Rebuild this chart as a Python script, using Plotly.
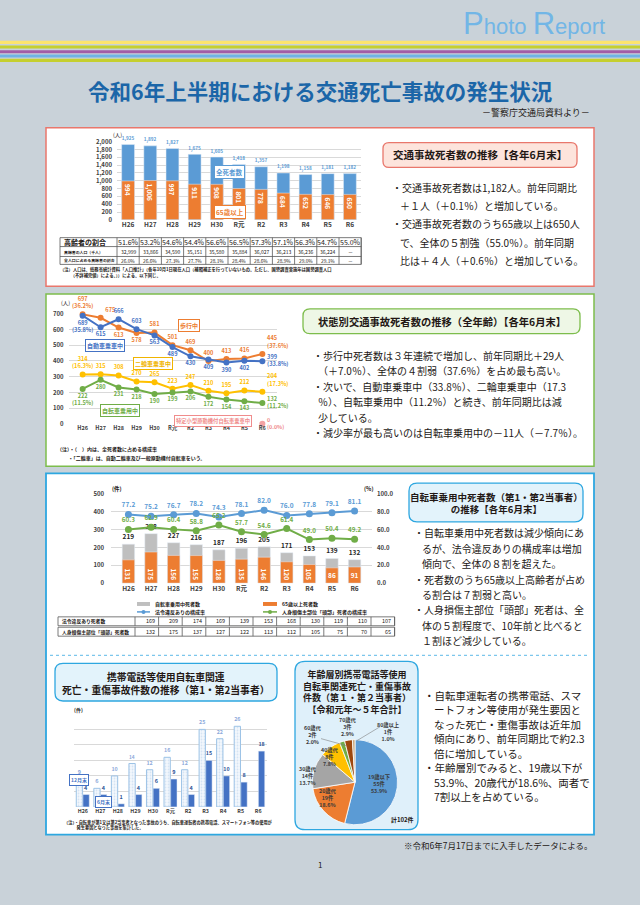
import plotly.graph_objects as go

W, H = 640, 905
FONT = "Noto Sans CJK JP"
DARK = "#231815"

def X(px): return px / W
def Y(py): return 1 - py / H

# ---------------- data ----------------
years = ["H26", "H27", "H28", "H29", "H30", "R元", "R2", "R3", "R4", "R5", "R6"]

total_deaths = [1925, 1892, 1827, 1675, 1605, 1418, 1357, 1198, 1158, 1181, 1182]
elderly_deaths = [994, 1006, 997, 911, 908, 801, 778, 684, 652, 646, 650]
elderly_share = ["51.6%", "53.2%", "54.6%", "54.4%", "56.6%", "56.5%", "57.3%", "57.1%", "56.3%", "54.7%", "55.0%"]
elderly_pop = ["32,999", "33,866", "34,590", "35,151", "35,580", "35,884", "36,027", "36,213", "36,236", "36,224", "－"]
elderly_pop_share = ["26.0%", "26.6%", "27.3%", "27.7%", "28.1%", "28.4%", "28.6%", "28.9%", "29.0%", "29.1%", "－"]

walking = [697, 675, 613, 578, 581, 501, 469, 400, 413, 416, 445]
car = [689, 615, 666, 603, 563, 489, 430, 409, 390, 402, 399]
motorcycle = [314, 315, 308, 270, 265, 223, 247, 210, 195, 212, 204]
bicycle = [222, 280, 231, 218, 190, 199, 206, 172, 154, 143, 132]
scooter = [None] * 10 + [0]
walking_pct = ["(36.2%)", "(37.6%)"]
car_pct = ["(35.8%)", "(33.8%)"]
motorcycle_pct = ["(16.3%)", "(17.3%)"]
bicycle_pct = ["(11.5%)", "(11.2%)"]
scooter_pct = "(0.0%)"

bike_deaths = [219, 278, 227, 216, 187, 196, 205, 171, 153, 139, 132]
bike_elderly = [131, 175, 156, 155, 128, 135, 146, 120, 105, 86, 91]
violation_rate = [77.2, 75.2, 76.7, 78.2, 74.3, 78.1, 82.0, 76.0, 77.8, 79.1, 81.1]
head_rate = [60.3, 62.9, 60.4, 58.8, 65.2, 57.7, 54.6, 61.4, 49.0, 50.4, 49.2]
violation_deaths = [169, 209, 174, 169, 139, 153, 168, 130, 119, 110, 107]
head_deaths = [132, 175, 137, 127, 122, 113, 112, 105, 75, 70, 65]

phone_dec = [9, 6, 10, 14, 12, 16, 12, 25, 22, 26, None]
phone_jun = [4, 4, 1, 4, 6, 9, 4, 15, 10, 8, 18]

age_groups = ["19歳以下", "20歳代", "30歳代", "40歳代", "60歳代", "70歳代", "80歳以上"]
age_counts = [55, 19, 14, 8, 2, 3, 1]
age_pcts = ["53.9%", "18.6%", "13.7%", "7.8%", "2.0%", "2.9%", "1.0%"]

# ---------------- helpers ----------------
shapes, anns = [], []

def rect(x0, y0, x1, y1, fill=None, line=None, lw=1.0, layer="below", dash="solid"):
    shapes.append(dict(type="rect", xref="paper", yref="paper",
                       x0=X(x0), x1=X(x1), y0=Y(y1), y1=Y(y0),
                       fillcolor=fill or "rgba(0,0,0,0)",
                       line=dict(color=line or "rgba(0,0,0,0)", width=lw if line else 0, dash=dash),
                       layer=layer))

def hline(x0, x1, y, color, lw=0.8, dash="solid", layer="above"):
    shapes.append(dict(type="line", xref="paper", yref="paper", x0=X(x0), x1=X(x1), y0=Y(y), y1=Y(y),
                       line=dict(color=color, width=lw, dash=dash), layer=layer))

def vline(x, y0, y1, color, lw=0.8, layer="above"):
    shapes.append(dict(type="line", xref="paper", yref="paper", x0=X(x), x1=X(x), y0=Y(y0), y1=Y(y1),
                       line=dict(color=color, width=lw), layer=layer))

def rrect(x0, y0, x1, y1, r, fill, line, lw=1.5):
    p = (f"M {X(x0+r)},{Y(y0)} L {X(x1-r)},{Y(y0)} Q {X(x1)},{Y(y0)} {X(x1)},{Y(y0+r)} "
         f"L {X(x1)},{Y(y1-r)} Q {X(x1)},{Y(y1)} {X(x1-r)},{Y(y1)} "
         f"L {X(x0+r)},{Y(y1)} Q {X(x0)},{Y(y1)} {X(x0)},{Y(y1-r)} "
         f"L {X(x0)},{Y(y0+r)} Q {X(x0)},{Y(y0)} {X(x0+r)},{Y(y0)} Z")
    shapes.append(dict(type="path", xref="paper", yref="paper", path=p, fillcolor=fill,
                       line=dict(color=line, width=lw), layer="below"))

def txt(s, x, y, size=10, color=DARK, xanchor="left", yanchor="middle", bold=False, **kw):
    d = dict(text=s, x=X(x), y=Y(y), xref="paper", yref="paper", showarrow=False,
             xanchor=xanchor, yanchor=yanchor,
             font=dict(size=size, color=color, family=FONT, weight="bold" if bold else "normal"))
    d.update(kw)
    anns.append(d)

def boxlabel(s, x, y, color, size=6):
    txt(s, x, y, size=size, color=color, xanchor="center", bold=True,
        bordercolor=color, borderwidth=1, borderpad=1, bgcolor="white")

# ---------------- page decoration ----------------
for (y0, y1, c) in [(36, 39.5, "#fde46e"), (41, 44, "#c5cf2f"), (45.7, 48.8, "#a25ca6"),
                    (50, 53, "#6fb2e4"), (54.3, 57.5, "#c5cf2f")]:
    rect(0, y0, 640, y1, fill=c)

txt('<span style="font-size:31px">P</span>hoto <span style="font-size:31px">R</span>eport',
    534, 38, size=22, color="#72b6e6", xanchor="center", yanchor="bottom")
anns[-1]["font"]["family"] = "Liberation Sans"

txt("令和6年上半期における交通死亡事故の発生状況", 320, 86, size=21.5, color="#1b66a8",
    xanchor="center", bold=True)
txt("－警察庁交通局資料より－", 592, 109, size=9, xanchor="right")

# panels
rect(46, 124, 594, 284, fill="white", line="#e9776c", lw=1.5)
rect(46, 292, 594, 466, fill="white", line="#7dbd4c", lw=1.5)
rect(46, 473, 594, 838, fill="white", line="#2ea7e0", lw=1.8)
hline(50, 590, 657, "#7cc6ec", lw=1.2, dash="dot", layer="below")

# ---------------- chart 1 ----------------
fig = go.Figure()
fig.add_trace(go.Bar(x=years, y=total_deaths, xaxis="x", yaxis="y", width=0.58,
                     marker=dict(color="#5b9bd5"),
                     text=[f"{v:,}" for v in total_deaths], textposition="outside",
                     textfont=dict(size=6, color="#5b9bd5", family=FONT, weight="bold"),
                     cliponaxis=False, hoverinfo="skip"))
fig.add_trace(go.Bar(x=years, y=elderly_deaths, xaxis="x", yaxis="y", width=0.58,
                     marker=dict(color="#ed7d31"),
                     text=[f"{v:,}" for v in elderly_deaths], textposition="inside",
                     insidetextanchor="end", textangle=90, constraintext="none",
                     textfont=dict(size=6.5, color="white", family=FONT, weight="bold"),
                     hoverinfo="skip"))
txt("(人)", 117, 131, size=5.5, xanchor="center")
boxlabel("全死者数", 229, 169, "#5b9bd5", size=6.5)
boxlabel("65歳以上", 230, 209, "#ed7d31", size=6.5)

# table 1
tx0, tx1 = 60, 117
cw1 = 22.2
rows1 = [235, 244, 254, 262]
tcol = "#595959"
rect(tx0, rows1[0], tx1 + cw1 * 11, rows1[-1], line=tcol, lw=0.8, layer="above")
for yy in rows1[1:-1]:
    hline(tx0, tx1 + cw1 * 11, yy, tcol)
for i in range(12):
    vline(tx1 + cw1 * i, rows1[0], rows1[-1], tcol)
row_labels1 = ["高齢者の割合", "高齢者の人口（千人）", "全人口に占める高齢者の割合"]
row_vals1 = [elderly_share, elderly_pop, elderly_pop_share]
row_sizes1 = [7, 5, 4.8]
for r in range(3):
    yc = (rows1[r] + rows1[r + 1]) / 2
    txt(row_labels1[r], tx0 + 2, yc, size=7 if r == 0 else 3.9, bold=True)
    for i, v in enumerate(row_vals1[r]):
        txt(v, tx1 + cw1 * (i + 0.5), yc, size=row_sizes1[r], xanchor="center")
txt("（注）人口は、総務省統計資料「人口推計」（各年10月1日現在人口（補間補正を行っていないもの。ただし、国勢調査実施年は国勢調査人口",
    58, 267, size=4.3, bold=True)
txt("　　　（不詳補完値）による。））による。以下同じ。", 58, 273, size=4.3, bold=True)

# panel 1 title + text
rrect(383, 139, 577, 164, 6, "#fde4dc", "#e9776c", 1.3)
txt("交通事故死者数の推移【各年6月末】", 480, 151.5, size=10.5, xanchor="center", bold=True)
p1 = ["・交通事故死者数は1,182人。前年同期比",
      "＋１人（＋0.1％）と増加している。",
      "・交通事故死者数のうち65歳以上は650人",
      "で、全体の５割強（55.0％）。前年同期",
      "比は＋４人（＋0.6％）と増加している。"]
for i, s in enumerate(p1):
    txt(s, 390 if s.startswith("・") else 398, 184 + 18.5 * i, size=10)

# ---------------- chart 2 ----------------
def lbl(vals, pct):
    t = [str(v) if v is not None else "" for v in vals]
    t[0] = f"{t[0]}<br>{pct[0]}"
    t[-1] = f"{t[-1]}<br>{pct[1]}"
    return t

walk_pos = ["top center", "top right", "bottom center", "bottom center", "top center", "top center",
            "top center", "top center", "top center", "top center", "top right"]
car_pos = ["bottom center", "bottom center", "top center", "top center", "bottom center", "bottom center",
           "bottom center", "bottom center", "bottom center", "bottom center", "middle right"]
motor_pos = ["top center"] * 10 + ["top right"]
bike_pos = ["bottom center"] * 10 + ["middle right"]

series2 = [
    (walking, walking_pct, "#ed7d31", walk_pos),
    (car, car_pct, "#4472c4", car_pos),
    (motorcycle, motorcycle_pct, "#ffc000", motor_pos),
    (bicycle, bicycle_pct, "#70ad47", bike_pos),
]
for vals, pct, col, pos in series2:
    fig.add_trace(go.Scatter(x=years, y=vals, xaxis="x2", yaxis="y2", mode="lines+markers+text",
                             line=dict(color=col, width=2), marker=dict(size=6, color=col),
                             text=lbl(vals, pct), textposition=pos,
                             textfont=dict(size=5.6, color=col, family=FONT, weight="bold"),
                             cliponaxis=False, hoverinfo="skip"))
fig.add_trace(go.Scatter(x=years, y=scooter, xaxis="x2", yaxis="y2", mode="markers+text",
                         marker=dict(size=6, color="#f4a3a3"),
                         text=[""] * 10 + [f"0<br>{scooter_pct}"], textposition="middle right",
                         textfont=dict(size=5.3, color="#f08c8c", family=FONT, weight="bold"),
                         cliponaxis=False, hoverinfo="skip"))
txt("(人)", 65, 301, size=5.5, xanchor="center")
boxlabel("歩行中", 189, 324, "#ed7d31")
boxlabel("自動車乗車中", 105, 344, "#4472c4")
boxlabel("二輪車乗車中", 153, 362, "#f0b400")
boxlabel("自転車乗用中", 120, 410, "#70ad47")
boxlabel("特定小型原動機付自転車乗車中", 213, 420, "#f08c8c", size=5.3)
txt("（注）・（　）内は、全死者数に占める構成率", 55, 448, size=5, bold=True)
txt("　　 ・「二輪車」は、自動二輪車及び一般原動機付自転車をいう。", 55, 458, size=5, bold=True)

rrect(303, 307, 580, 332, 7, "#eef7e6", "#7dbd4c", 1.3)
txt("状態別交通事故死者数の推移（全年齢）【各年6月末】", 441.5, 319.5, size=10.3, xanchor="center", bold=True)
p2 = ["・歩行中死者数は３年連続で増加し、前年同期比＋29人",
      "（＋7.0％）、全体の４割弱（37.6％）を占め最も高い。",
      "・次いで、自動車乗車中（33.8％）、二輪車乗車中（17.3",
      "％）、自転車乗用中（11.2％）と続き、前年同期比は減",
      "少している。",
      "・減少率が最も高いのは自転車乗用中の－11人（－7.7％）。"]
for i, s in enumerate(p2):
    txt(s, 311 if s.startswith("・") else 316, 354 + 15.6 * i, size=10)

# ---------------- chart 3 ----------------
fig.add_trace(go.Bar(x=years, y=bike_deaths, xaxis="x3", yaxis="y3", width=0.55,
                     marker=dict(color="#bfbfbf"),
                     text=bike_deaths, textposition="outside",
                     textfont=dict(size=6.5, color="#262626", family=FONT, weight="bold"),
                     cliponaxis=False, hoverinfo="skip"))
fig.add_trace(go.Bar(x=years, y=bike_elderly, xaxis="x3", yaxis="y3", width=0.55,
                     marker=dict(color="#ed7d31"),
                     text=bike_elderly, textposition="inside", insidetextanchor="start",
                     constraintext="none",
                     textfont=dict(size=6.5, color="white", family=FONT, weight="bold"),
                     hoverinfo="skip"))
fig.add_trace(go.Scatter(x=years, y=violation_rate, xaxis="x3", yaxis="y4", mode="lines+markers+text",
                         line=dict(color="#5b9bd5", width=2), marker=dict(size=7, color="#5b9bd5"),
                         text=[f"{v:.1f}" for v in violation_rate], textposition="top center",
                         textfont=dict(size=6.5, color="#5b9bd5", family=FONT, weight="bold"),
                         cliponaxis=False, hoverinfo="skip"))
fig.add_trace(go.Scatter(x=years, y=head_rate, xaxis="x3", yaxis="y4", mode="lines+markers+text",
                         line=dict(color="#70ad47", width=2), marker=dict(size=7, color="#70ad47"),
                         text=[f"{v:.1f}" for v in head_rate], textposition="top center",
                         textfont=dict(size=6.3, color="#70ad47", family=FONT, weight="bold"),
                         cliponaxis=False, hoverinfo="skip"))
txt("(件)", 117, 489, size=5.5, xanchor="center", bold=True)
txt("(%)", 368, 489, size=5.5, xanchor="center", bold=True)

# legend chart 3
rect(137, 603, 150, 607, fill="#bfbfbf", layer="above")
txt("自転車乗用中死者数", 153, 605, size=5, bold=True)
rect(263, 603, 277, 607, fill="#ed7d31", layer="above")
txt("65歳以上死者数", 280, 605, size=5, bold=True)
hline(137, 150, 613, "#5b9bd5", lw=1.5)
shapes.append(dict(type="circle", xref="paper", yref="paper", x0=X(141.5), x1=X(145.5), y0=Y(615), y1=Y(611),
                   fillcolor="#5b9bd5", line=dict(width=0), layer="above"))
txt("法令違反ありの構成率", 153, 613, size=5, bold=True)
hline(263, 277, 613, "#70ad47", lw=1.5)
shapes.append(dict(type="circle", xref="paper", yref="paper", x0=X(268), x1=X(272), y0=Y(615), y1=Y(611),
                   fillcolor="#70ad47", line=dict(width=0), layer="above"))
txt("人身損傷主部位「頭部」死者の構成率", 280, 613, size=5, bold=True)

# table 3
t3x0, t3x1, cw3 = 58, 135, 23.6
for (ya, yb), lab, vals in [((618, 627), "法令違反あり死者数", violation_deaths),
                            ((628.5, 637.5), "人身損傷主部位「頭部」死者数", head_deaths)]:
    rect(t3x0, ya, t3x1 + cw3 * 11, yb, line=tcol, lw=0.8, layer="above")
    for i in range(12):
        vline(t3x1 + cw3 * i, ya, yb, tcol)
    txt(lab, t3x0 + 2, (ya + yb) / 2, size=4.8, bold=True)
    for i, v in enumerate(vals):
        txt(str(v), t3x1 + cw3 * (i + 1) - 2, (ya + yb) / 2, size=5.5, xanchor="right")

rrect(409, 483, 583, 522, 8, "#e3f3fb", "#2ea7e0", 1.3)
txt("自転車乗用中死者数（第1・第2当事者）<br>の推移【各年6月末】", 496, 502.5, size=9.5,
    xanchor="center", bold=True)
p3 = ["・自転車乗用中死者数は減少傾向にあ",
      "るが、法令違反ありの構成率は増加",
      "傾向で、全体の８割を超えた。",
      "・死者数のうち65歳以上高齢者が占め",
      "る割合は７割弱と高い。",
      "・人身損傷主部位「頭部」死者は、全",
      "体の５割程度で、10年前と比べると",
      "１割ほど減少している。"]
for i, s in enumerate(p3):
    txt(s, 412 if s.startswith("・") else 420, 533 + 15.6 * i, size=10)

# ---------------- chart 4 ----------------
rrect(55, 665, 277, 703, 8, "#e3f3fb", "#2ea7e0", 1.3)
txt("携帯電話等使用自転車関連<br>死亡・重傷事故件数の推移（第1・第2当事者）", 166, 685, size=9.8,
    xanchor="center", bold=True)

fig.add_trace(go.Bar(x=years, y=phone_dec, xaxis="x4", yaxis="y5", width=0.36, offset=-0.37,
                     marker=dict(color="#f4f8fd", line=dict(color="#9dc3e6", width=1),
                                 pattern=dict(shape=".", fgcolor="#b4cdea", size=3, solidity=0.3)),
                     text=[str(v) if v is not None else "" for v in phone_dec], textposition="outside",
                     textfont=dict(size=5.5, color="#8eaadb", family=FONT, weight="bold"),
                     cliponaxis=False, hoverinfo="skip"))
fig.add_trace(go.Bar(x=years, y=phone_jun, xaxis="x4", yaxis="y5", width=0.36, offset=0.01,
                     marker=dict(color="#4472c4"),
                     text=phone_jun, textposition="outside",
                     textfont=dict(size=5.5, color="#2f5597", family=FONT, weight="bold"),
                     cliponaxis=False, hoverinfo="skip"))
txt("(件)", 78, 712, size=5, xanchor="center", bold=True)
boxlabel("12月末", 79, 783, "#4472c4", size=5)
boxlabel("6月末", 103, 805, "#4472c4", size=5)
txt("（注）・自転車が第1又は第2当事者となった事故のうち、自転車運転者の携帯電話、スマートフォン等の使用が"
    "<br>　　　発生要因となった事故を集計した。", 62, 828, size=4.2, bold=True, align="left")

# ---------------- pie ----------------
rrect(295, 663, 418, 833, 10, "#dff0fa", "#2ea7e0", 1.3)
txt("年齢層別携帯電話等使用<br>自転車関連死亡・重傷事故<br>件数（第１・第２当事者）<br>【令和元年～５年合計】",
    357, 694, size=9, xanchor="center", bold=True)

fig.add_trace(go.Pie(labels=age_groups, values=age_counts, sort=False, direction="clockwise",
                     rotation=0, textinfo="none", hoverinfo="skip",
                     marker=dict(colors=["#5b9bd5", "#ed7d31", "#a5a5a5", "#ffc000", "#70ad47",
                                         "#9e480e", "#c9a77f"],
                                 line=dict(color="white", width=0.8)),
                     domain=dict(x=[X(312), X(398)], y=[Y(828), Y(742)])))
pie_lab_pos = [(379, 787), (328, 801), (308, 779), (330, 760), (313, 737), (348, 729), (388, 734)]
for (px, py), g, c, p in zip(pie_lab_pos, age_groups, age_counts, age_pcts):
    txt(f"{g}<br>{c}件<br>{p}", px, py, size=5.3, xanchor="center", color="#3a3a3a", bold=True)
shapes.append(dict(type="line", xref="paper", yref="paper", x0=X(321), y0=Y(741), x1=X(346), y1=Y(748),
                   line=dict(color="#808080", width=0.6), layer="above"))
shapes.append(dict(type="line", xref="paper", yref="paper", x0=X(380), y0=Y(729), x1=X(357), y1=Y(743),
                   line=dict(color="#808080", width=0.6), layer="above"))
txt("計102件", 402, 823, size=6, xanchor="center", bold=True)

p4 = ["・自転車運転者の携帯電話、スマ",
      "ートフォン等使用が発生要因と",
      "なった死亡・重傷事故は近年加",
      "傾向にあり、前年同期比で約2.3",
      "倍に増加している。",
      "・年齢層別でみると、19歳以下が",
      "53.9%、20歳代が18.6%、両者で",
      "7割以上を占めている。"]
for i, s in enumerate(p4):
    txt(s, 422 if s.startswith("・") else 432, 697 + 14.7 * i, size=10.5)

txt("※令和6年7月17日までに入手したデータによる。", 595, 848, size=8.5, xanchor="right")
txt("1", 320, 868, size=8, xanchor="center")

# ---------------- axes ----------------
tick_font = dict(size=6, family=FONT, color="#404040", weight="bold")
grid = "#d9d9d9"
common_x = dict(type="category", showline=False, ticks="", showgrid=False, tickfont=tick_font,
                fixedrange=True)
common_y = dict(showline=False, ticks="", gridcolor=grid, gridwidth=0.8, zeroline=False,
                tickfont=tick_font, fixedrange=True)

fig.update_layout(
    width=W, height=H, margin=dict(l=0, r=0, t=0, b=0),
    paper_bgcolor="#c9d2d9", plot_bgcolor="rgba(0,0,0,0)",
    showlegend=False, barmode="overlay",
    font=dict(family=FONT, color=DARK),
    xaxis=dict(common_x, domain=[X(117), X(361)], anchor="y", tickfont=dict(tick_font, size=6.5)),
    yaxis=dict(common_y, domain=[Y(217), Y(138)], anchor="x", range=[0, 2000], dtick=200,
               tickformat=",", ticklabelstandoff=4),
    xaxis2=dict(common_x, domain=[X(68.5), X(276.5)], anchor="y2", tickfont=dict(tick_font, size=5.5)),
    yaxis2=dict(common_y, domain=[Y(423), Y(312)], anchor="x2", range=[0, 700], dtick=100,
                ticklabelstandoff=4),
    xaxis3=dict(common_x, domain=[X(111), X(372)], anchor="y3", tickfont=dict(tick_font, size=6.5)),
    yaxis3=dict(common_y, domain=[Y(584), Y(494)], anchor="x3", range=[0, 500], dtick=100,
                ticklabelstandoff=6),
    yaxis4=dict(common_y, overlaying="y3", side="right", anchor="x3", range=[0, 100], dtick=20,
                tickformat=".1f", showgrid=False, ticklabelstandoff=4),
    xaxis4=dict(common_x, domain=[X(74), X(267)], anchor="y5", tickfont=dict(tick_font, size=5.3)),
    yaxis5=dict(common_y, domain=[Y(810), Y(716)], anchor="x4", range=[0, 30], dtick=5,
                showticklabels=False),
    shapes=shapes, annotations=anns,
)

fig.write_html("out.html", config={"displayModeBar": False},
               post_script="document.body.style.margin='0';")
